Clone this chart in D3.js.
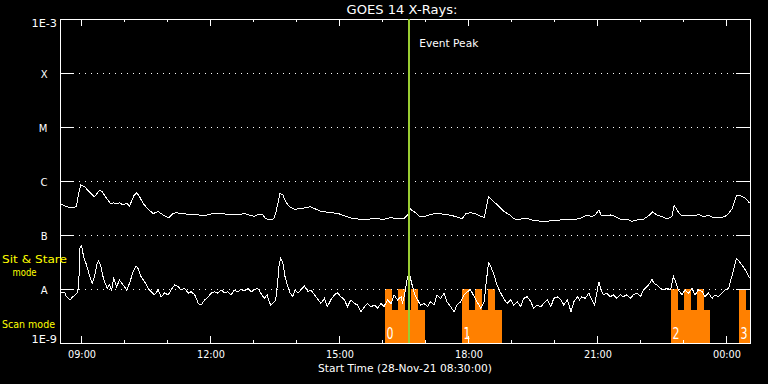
<!DOCTYPE html>
<html>
<head>
<meta charset="utf-8">
<script src="https://cdn.jsdelivr.net/npm/d3@7"></script>
<style>
  body { margin: 0; background: #000; }
  svg { display: block; background: #000; }
  text { font-family: "DejaVu Sans", sans-serif; fill: #fff; }
</style>
</head>
<body>
<svg width="768" height="384"></svg>
<script>
// Data ======================================================

var startStamp = "2021-11-28 08:30:00";
var endStamp = "2021-11-29 00:32:50";
var eventPeakStamp = "2021-11-28 16:37:25";

// flux level labels on the left
var levelNames = ["1E-3", "X", "M", "C", "B", "A", "1E-9"];
var levelValues = [1e-3, 1e-4, 1e-5, 1e-6, 1e-7, 1e-8, 1e-9];
var gridLevels = [1e-4, 1e-5, 1e-6, 1e-7, 1e-8];

// 1-8 A channel: [minutes after start, W/m^2]
var longChannel = [
  [0,3.75e-7],[11,3.30e-7],[18,3.16e-7],[23,3.44e-7],[26,5.9e-7],[29,8.4e-7],[34,7.9e-7],
  [41,6.3e-7],[48,5.1e-7],[52,5.9e-7],[55,6.8e-7],[59,6.3e-7],[65,4.8e-7],[71,3.75e-7],
  [75,3.95e-7],[79,3.75e-7],[83,3.95e-7],[88,3.6e-7],[93,3.85e-7],[97,3.44e-7],[103,5.3e-7],
  [107,6.1e-7],[111,5.1e-7],[116,3.85e-7],[123,3.0e-7],[130,2.5e-7],[137,2.7e-7],[141,2.5e-7],
  [146,2.25e-7],[152,2.1e-7],[158,2.5e-7],[162,2.6e-7],[169,2.45e-7],[176,2.45e-7],[183,2.4e-7],
  [193,2.35e-7],[202,2.3e-7],[211,2.45e-7],[220,2.5e-7],[230,2.45e-7],[239,2.35e-7],[248,2.35e-7],
  [257,2.5e-7],[264,2.35e-7],[271,2.2e-7],[278,2.45e-7],[283,2.35e-7],[287,2.0e-7],[293,1.9e-7],
  [298,2.0e-7],[301,2.5e-7],[304,3.85e-7],[307,5.9e-7],[311,5.5e-7],[315,4.1e-7],[320,3.35e-7],
  [327,3.0e-7],[334,3.05e-7],[341,3.16e-7],[349,3.35e-7],[355,3.1e-7],[362,2.8e-7],[371,2.67e-7],
  [380,2.6e-7],[390,2.45e-7],[397,2.25e-7],[406,2.06e-7],[415,1.98e-7],[425,1.95e-7],[434,1.98e-7],
  [443,2.0e-7],[452,1.95e-7],[462,2.1e-7],[471,2.0e-7],[480,2.0e-7],[485,2.34e-7],[488,3.1e-7],
  [492,2.8e-7],[496,2.6e-7],[501,2.25e-7],[508,2.2e-7],[515,2.35e-7],[524,2.5e-7],[533,2.45e-7],
  [543,2.35e-7],[552,2.2e-7],[561,2.0e-7],[566,2.45e-7],[573,2.6e-7],[580,2.45e-7],[586,2.25e-7],
  [592,2.1e-7],[595,3.35e-7],[598,5.1e-7],[602,4.6e-7],[607,3.95e-7],[613,3.35e-7],[620,2.7e-7],
  [628,2.35e-7],[633,2.0e-7],[640,1.9e-7],[647,2.06e-7],[654,2.0e-7],[661,1.85e-7],[671,1.8e-7],
  [680,1.8e-7],[689,1.85e-7],[699,1.9e-7],[708,1.95e-7],[715,1.9e-7],[724,2.0e-7],[728,2.1e-7],
  [735,2.35e-7],[742,2.2e-7],[747,2.35e-7],[752,2.9e-7],[755,2.35e-7],[761,2.25e-7],[768,2.35e-7],
  [775,2.2e-7],[782,1.95e-7],[791,1.95e-7],[798,1.8e-7],[805,1.9e-7],[814,1.95e-7],[821,2.25e-7],
  [827,2.67e-7],[833,2.35e-7],[840,2.2e-7],[847,2.0e-7],[854,2.2e-7],[857,3.55e-7],[861,2.9e-7],
  [866,2.35e-7],[875,2.25e-7],[884,2.25e-7],[891,2.4e-7],[898,2.2e-7],[905,2.3e-7],[912,2.1e-7],
  [921,2.1e-7],[928,2.2e-7],[933,2.5e-7],[938,3.1e-7],[944,5.3e-7],[949,5.4e-7],[956,4.8e-7],
  [962,3.95e-7]
];

// 0.5-4 A channel: [minutes after start, W/m^2]
var shortChannel = [
  [0,8.9e-9],[7,8.4e-9],[9,7.2e-9],[14,6.3e-9],[18,7.2e-9],[21,7.8e-9],[24,8.4e-9],[26,1.1e-8],
  [28,6.1e-8],[30,6.3e-8],[33,3.95e-8],[37,2.8e-8],[41,1.8e-8],[45,1.27e-8],[48,1.7e-8],[52,3.0e-8],
  [54,3.3e-8],[57,2.6e-8],[60,1.7e-8],[63,1.27e-8],[66,1.03e-8],[69,1.19e-8],[72,9.6e-9],[75,1.58e-8],
  [79,1.1e-8],[83,1.47e-8],[88,1.19e-8],[93,9.6e-9],[97,1.27e-8],[102,2.1e-8],[106,2.67e-8],[109,2.4e-8],
  [113,1.7e-8],[118,1.37e-8],[123,1.03e-8],[127,8.9e-9],[132,7.8e-9],[137,9.6e-9],[141,7.2e-9],[146,8.4e-9],
  [151,7.8e-9],[155,9.6e-9],[160,1.19e-8],[165,1.1e-8],[169,9.6e-9],[174,1.03e-8],[179,8.4e-9],[183,8.9e-9],
  [188,7.8e-9],[193,5.4e-9],[197,5.05e-9],[202,6.3e-9],[207,7.2e-9],[211,8.4e-9],[216,8.9e-9],[220,8.4e-9],
  [225,9.6e-9],[230,8.4e-9],[234,8.9e-9],[239,7.8e-9],[243,9.6e-9],[248,8.9e-9],[253,9.9e-9],[257,9.2e-9],
  [262,1.03e-8],[267,8.9e-9],[271,9.6e-9],[276,1.03e-8],[280,8.4e-9],[285,6.7e-9],[289,7.8e-9],[292,5.8e-9],
  [294,5.05e-9],[298,5.6e-9],[301,6.3e-9],[304,1.47e-8],[306,3.0e-8],[308,3.7e-8],[311,3.0e-8],[314,1.7e-8],
  [318,1.1e-8],[321,8.4e-9],[325,7.2e-9],[328,9.6e-9],[332,8.4e-9],[336,9.6e-9],[341,1.14e-8],[346,8.9e-9],
  [350,9.6e-9],[355,7.8e-9],[359,6.7e-9],[364,5.4e-9],[369,6.7e-9],[373,4.7e-9],[378,6.3e-9],[383,7.8e-9],
  [387,8.5e-9],[392,7.2e-9],[397,6.3e-9],[401,4.7e-9],[406,6.3e-9],[411,5.4e-9],[415,5.05e-9],[420,3.8e-9],
  [425,4.7e-9],[429,5.4e-9],[434,4.7e-9],[439,5.05e-9],[443,4.4e-9],[448,5.4e-9],[452,4.7e-9],[457,6.3e-9],
  [462,5.4e-9],[466,7.8e-9],[471,6.3e-9],[476,7.2e-9],[478,5.4e-9],[482,9.6e-9],[485,1.7e-8],[488,1.8e-8],
  [492,1.1e-8],[495,7.8e-9],[499,6.3e-9],[503,5.05e-9],[508,5.4e-9],[513,4.7e-9],[517,5.8e-9],[522,5.05e-9],
  [526,7.8e-9],[531,6.7e-9],[536,8.4e-9],[540,5.8e-9],[545,4.7e-9],[550,3.8e-9],[554,5.05e-9],[559,5.8e-9],
  [564,7.8e-9],[568,8.9e-9],[573,9.6e-9],[578,7.2e-9],[582,5.8e-9],[587,4.4e-9],[592,5.8e-9],[594,1.1e-8],
  [598,3.07e-8],[601,2.6e-8],[605,1.95e-8],[609,1.27e-8],[614,8.9e-9],[619,6.7e-9],[624,5.4e-9],[629,6.3e-9],
  [633,5.05e-9],[638,5.8e-9],[643,4.7e-9],[647,6.7e-9],[652,7.2e-9],[657,5.8e-9],[661,4.4e-9],[666,5.05e-9],
  [671,4.7e-9],[675,5.4e-9],[680,6.3e-9],[685,4.7e-9],[689,6.7e-9],[694,7.2e-9],[699,6.3e-9],[703,5.05e-9],
  [708,6.3e-9],[713,3.8e-9],[717,5.8e-9],[722,7.2e-9],[725,6.3e-9],[728,7.2e-9],[733,6.7e-9],[738,8.4e-9],
  [742,6.3e-9],[746,5.05e-9],[749,8.4e-9],[752,1.37e-8],[755,9.6e-9],[758,7.8e-9],[763,8.4e-9],[768,7.2e-9],
  [772,7.8e-9],[777,6.7e-9],[782,7.8e-9],[786,7.2e-9],[791,7.8e-9],[796,6.7e-9],[800,7.8e-9],[805,8.4e-9],
  [810,7.2e-9],[814,9.6e-9],[819,1.1e-8],[823,1.27e-8],[826,1.5e-8],[829,1.27e-8],[833,1.19e-8],[838,1.03e-8],
  [842,9.6e-9],[847,1.03e-8],[852,9.6e-9],[856,1.7e-8],[859,1.37e-8],[863,9.6e-9],[868,7.8e-9],[872,9.6e-9],
  [877,8.4e-9],[882,1.03e-8],[886,7.8e-9],[891,9.6e-9],[896,8.9e-9],[900,7.2e-9],[905,8.4e-9],[910,6.7e-9],
  [914,7.8e-9],[919,7.2e-9],[924,8.4e-9],[928,9.6e-9],[933,1.03e-8],[936,1.47e-8],[940,2.25e-8],[944,3.7e-8],
  [948,3.2e-8],[953,2.6e-8],[958,2.1e-8],[962,1.58e-8]
];

// scan / sit-and-stare blocks
var scanLabels = ["0", "1", "2", "3"];
var scanStarts = ["2021-11-28 16:03:30", "2021-11-28 17:50:55", "2021-11-28 22:42:30", "2021-11-29 00:17:25"];
var scanSegmentMinutes = 9.2;
var scanSegmentLevels = [1e-8, 4.1e-9, 1e-8, 4.1e-9, 1e-8, 4.1e-9];

// Setup =====================================================

var svg = d3.select("svg");
var parseTime = d3.timeParse("%Y-%m-%d %H:%M:%S");
var startTime = parseTime(startStamp);
var endTime = parseTime(endStamp);

// plot box edges
var plotL = 60, plotR = 750, plotT = 19, plotB = 343;

var x = d3.scaleTime().domain([startTime, endTime]).range([plotL, plotR]);
var y = d3.scaleLog().domain([1e-9, 1e-3]).range([plotB, plotT]);

function minutesToDate(m) {
  return new Date(+startTime + m * 60000);
}

svg.append("rect").attr("width", 768).attr("height", 384).attr("fill", "#000");

svg.append("clipPath").attr("id", "plotclip")
  .append("rect").attr("x", plotL).attr("y", plotT)
  .attr("width", plotR - plotL + 1).attr("height", plotB - plotT);

// Scan blocks ===============================================

var blocks = svg.append("g").attr("clip-path", "url(#plotclip)")
  .attr("shape-rendering", "crispEdges");

scanStarts.forEach(function(s, bi) {
  var t0 = parseTime(s);
  scanSegmentLevels.forEach(function(level, i) {
    var a = new Date(+t0 + i * scanSegmentMinutes * 60000);
    var b = new Date(+t0 + (i + 1) * scanSegmentMinutes * 60000);
    blocks.append("rect")
      .attr("x", x(a)).attr("width", x(b) - x(a))
      .attr("y", y(level)).attr("height", y(1e-9) - y(level))
      .attr("fill", "#ff8000");
  });
});

// Grid ======================================================

svg.append("g").selectAll("line")
  .data(gridLevels).enter().append("line")
  .attr("x1", plotL + 0.5).attr("x2", plotR + 0.5)
  .attr("y1", function(d) { return Math.round(y(d)) + 0.5; })
  .attr("y2", function(d) { return Math.round(y(d)) + 0.5; })
  .attr("stroke", "#fff").attr("stroke-width", 1)
  .attr("stroke-dasharray", "1,5")
  .attr("shape-rendering", "crispEdges");

// Axes ======================================================

function plain(g) {
  g.select(".domain").remove();
  g.selectAll("line").attr("stroke", "#fff").attr("shape-rendering", "crispEdges");
  g.attr("font-family", null).attr("font-size", null);
}

svg.append("g").attr("transform", "translate(0," + plotB + ")")
  .call(d3.axisBottom(x).ticks(d3.timeHour.every(1)).tickSize(-3).tickFormat(""))
  .call(plain);
var xMajor = svg.append("g").attr("transform", "translate(0," + plotB + ")")
  .call(d3.axisBottom(x).ticks(d3.timeHour.every(3)).tickSize(-7).tickPadding(8)
    .tickFormat(d3.timeFormat("%H:%M")))
  .call(plain);
xMajor.selectAll("text").attr("fill", "#fff").attr("font-size", 10)
  .attr("textLength", 28).attr("lengthAdjust", "spacingAndGlyphs");

svg.append("g").attr("transform", "translate(0," + plotT + ")")
  .call(d3.axisTop(x).ticks(d3.timeHour.every(1)).tickSize(-3).tickFormat(""))
  .call(plain);
svg.append("g").attr("transform", "translate(0," + plotT + ")")
  .call(d3.axisTop(x).ticks(d3.timeHour.every(3)).tickSize(-7).tickFormat(""))
  .call(plain);

svg.append("g").attr("transform", "translate(" + plotL + ",0)")
  .call(d3.axisLeft(y).tickValues(gridLevels).tickSize(-14).tickFormat(""))
  .call(plain);
svg.append("g").attr("transform", "translate(" + plotR + ",0)")
  .call(d3.axisRight(y).tickValues(gridLevels).tickSize(-14).tickFormat(""))
  .call(plain);

svg.append("rect")
  .attr("x", plotL + 0.5).attr("y", plotT + 0.5)
  .attr("width", plotR - plotL).attr("height", plotB - plotT)
  .attr("fill", "none").attr("stroke", "#fff")
  .attr("shape-rendering", "crispEdges");

// Curves ====================================================

var line = d3.line()
  .x(function(d) { return x(minutesToDate(d[0])); })
  .y(function(d) { return y(d[1]); });

var curves = svg.append("g").attr("clip-path", "url(#plotclip)");
[longChannel, shortChannel].forEach(function(series) {
  curves.append("path").datum(series)
    .attr("d", line)
    .attr("fill", "none").attr("stroke", "#fff").attr("stroke-width", 1)
    .attr("shape-rendering", "crispEdges");
});

// Event peak ================================================

var peakX = x(parseTime(eventPeakStamp));
svg.append("line")
  .attr("x1", peakX).attr("x2", peakX)
  .attr("y1", plotT).attr("y2", plotB)
  .attr("stroke", "#9acd32").attr("stroke-width", 2)
  .attr("shape-rendering", "crispEdges");

svg.append("text")
  .attr("x", peakX + 10).attr("y", 47)
  .attr("font-size", 11)
  .attr("textLength", 59).attr("lengthAdjust", "spacingAndGlyphs")
  .text("Event Peak");

// Labels ====================================================

svg.append("text")
  .attr("x", 402).attr("y", 14).attr("text-anchor", "middle")
  .attr("font-size", 12)
  .attr("textLength", 111).attr("lengthAdjust", "spacingAndGlyphs")
  .text("GOES 14 X-Rays:");

svg.append("text")
  .attr("x", 405).attr("y", 372).attr("text-anchor", "middle")
  .attr("font-size", 11)
  .attr("textLength", 174).attr("lengthAdjust", "spacingAndGlyphs")
  .text("Start Time (28-Nov-21 08:30:00)");

levelNames.forEach(function(name, i) {
  var v = levelValues[i];
  var t = svg.append("text").attr("text-anchor", "end").attr("font-size", 10).text(name);
  if (name.length > 1) {
    t.attr("x", 57)
      .attr("y", i == 0 ? y(v) + 8 : y(v))
      .attr("textLength", 25.5).attr("lengthAdjust", "spacingAndGlyphs");
  } else {
    t.attr("x", 47.5).attr("y", y(v) + 4.5);
  }
});

svg.append("text")
  .attr("x", 2).attr("y", 263)
  .attr("font-size", 11).style("fill", "#ffff00")
  .attr("textLength", 65).attr("lengthAdjust", "spacingAndGlyphs")
  .text("Sit & Stare");
svg.append("text")
  .attr("x", 24.5).attr("y", 276).attr("text-anchor", "middle")
  .attr("font-size", 11).style("fill", "#ffff00")
  .attr("textLength", 24).attr("lengthAdjust", "spacingAndGlyphs")
  .text("mode");
svg.append("text")
  .attr("x", 2).attr("y", 328)
  .attr("font-size", 11).style("fill", "#ffff00")
  .attr("textLength", 53).attr("lengthAdjust", "spacingAndGlyphs")
  .text("Scan mode");

scanStarts.forEach(function(s, i) {
  svg.append("text")
    .attr("x", x(parseTime(s)) + 1.5).attr("y", 339)
    .attr("font-size", 15)
    .attr("textLength", 7).attr("lengthAdjust", "spacingAndGlyphs")
    .text(scanLabels[i]);
});
</script>
</body>
</html>
